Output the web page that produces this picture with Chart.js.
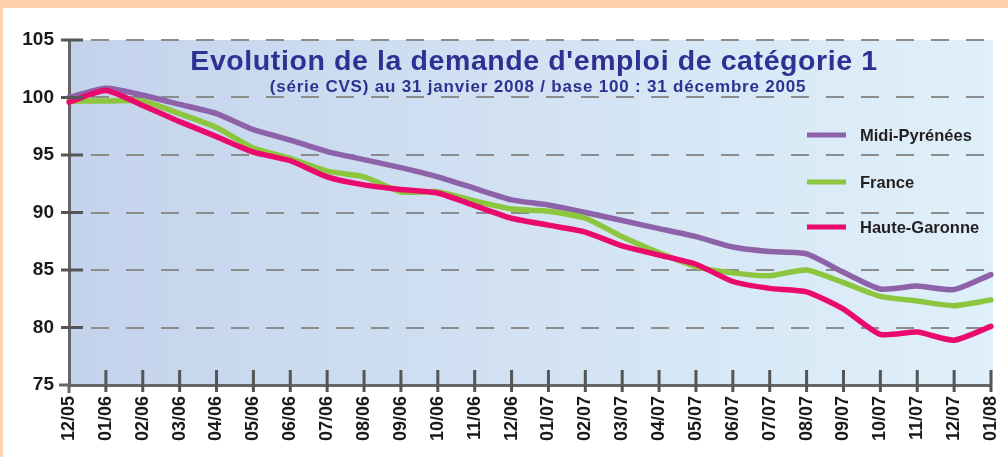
<!DOCTYPE html>
<html>
<head>
<meta charset="utf-8">
<script src="https://cdn.jsdelivr.net/npm/chart.js@4/dist/chart.umd.min.js"></script>
<style>
  html, body { margin: 0; padding: 0; }
  body { background: #fdd2ad; width: 1008px; height: 457px; overflow: hidden; position: relative; }
  #panel { position: absolute; left: 3px; top: 8px; width: 1005px; height: 449px; background: #ffffff; }
  canvas { display: block; }
</style>
</head>
<body>
<div id="panel"><canvas id="myChart" width="1005" height="449"></canvas></div>
<script>
const months = ['12/05', '01/06', '02/06', '03/06', '04/06', '05/06', '06/06', '07/06', '08/06', '09/06', '10/06', '11/06', '12/06',
    '01/07', '02/07', '03/07', '04/07', '05/07', '06/07', '07/07', '08/07', '09/07', '10/07', '11/07', '12/07', '01/08']

const midiPyrenees = [100.0, 100.8, 100.2, 99.4, 98.6, 97.2, 96.3, 95.3, 94.6, 93.9, 93.1, 92.1, 91.1,
    90.65, 90.0, 89.3, 88.6, 87.9, 87.0, 86.6, 86.4, 84.8, 83.35, 83.6, 83.3, 84.6]
const france = [99.7, 99.7, 99.7, 98.6, 97.4, 95.6, 94.7, 93.6, 93.1, 91.8, 91.8, 91.0, 90.3,
    90.1, 89.5, 87.9, 86.5, 85.3, 84.75, 84.5, 85.0, 83.9, 82.7, 82.3, 81.9, 82.4]
const hauteGaronne = [99.6, 100.6, 99.3, 97.9, 96.6, 95.25, 94.5, 93.1, 92.4, 92.0, 91.7, 90.6, 89.5,
    88.9, 88.3, 87.1, 86.3, 85.5, 84.0, 83.4, 83.1, 81.6, 79.4, 79.6, 78.9, 80.1]

const yTicks = [75, 80, 85, 90, 95, 100, 105]

const titleText = "Evolution de la demande d'emploi de catégorie 1"
const subtitleText = "(série CVS) au 31 janvier 2008 / base 100 : 31 décembre 2005"

const purple = '#8e62a9'
const green = '#8cc63e'
const red = '#ea0a6e'
const navy = '#2e3192'
const axisGray = '#666666'
const font = "'Liberation Sans', Arial, sans-serif"

// background, axis overhangs, ticks, title and legend
const decoPlugin = {
    id: 'deco',
    beforeDraw(chart) {
        const ctx = chart.ctx
        const a = chart.chartArea
        const grad = ctx.createLinearGradient(a.left, 0, a.right, 0)
        grad.addColorStop(0, '#c4d3ec')
        grad.addColorStop(0.5, '#d2e2f3')
        grad.addColorStop(1, '#dff0fa')
        ctx.save()
        ctx.fillStyle = grad
        ctx.fillRect(a.left, a.top, a.right - a.left + 2, a.bottom - a.top)
        ctx.restore()
    },
    afterDraw(chart) {
        const ctx = chart.ctx
        const a = chart.chartArea
        const xs = chart.scales.x
        const ys = chart.scales.y
        ctx.save()
        ctx.strokeStyle = axisGray
        ctx.lineWidth = 3
        // axis overhangs
        ctx.beginPath()
        ctx.moveTo(a.left, a.bottom)
        ctx.lineTo(a.left, a.bottom + 8)
        ctx.moveTo(a.left - 10, a.bottom)
        ctx.lineTo(a.left, a.bottom)
        ctx.stroke()
        // y ticks crossing the axis
        ctx.strokeStyle = '#555555'
        ctx.beginPath()
        yTicks.forEach(v => {
            if (v === 75) return
            const y = ys.getPixelForValue(v)
            ctx.moveTo(a.left - 8, y)
            ctx.lineTo(a.left + 14, y)
        })
        // x ticks crossing the axis
        months.forEach((m, i) => {
            if (i === 0) return
            const x = xs.getPixelForValue(i)
            ctx.moveTo(x, a.bottom - 15)
            ctx.lineTo(x, a.bottom + 7)
        })
        ctx.stroke()

        // title
        ctx.fillStyle = navy
        ctx.textAlign = 'center'
        ctx.textBaseline = 'alphabetic'
        ctx.letterSpacing = '0.6px'
        ctx.font = 'bold 28.5px ' + font
        ctx.fillText(titleText, 531, 62)
        ctx.letterSpacing = '0.8px'
        ctx.font = 'bold 17px ' + font
        ctx.fillText(subtitleText, 535, 84)
        ctx.letterSpacing = '0px'

        // legend
        const items = [
            { label: 'Midi-Pyrénées', color: purple, y: 127 },
            { label: 'France', color: green, y: 174 },
            { label: 'Haute-Garonne', color: red, y: 219 }
        ]
        ctx.textAlign = 'left'
        ctx.textBaseline = 'middle'
        ctx.font = 'bold 16.5px ' + font
        items.forEach(it => {
            ctx.strokeStyle = it.color
            ctx.lineWidth = 5
            ctx.beginPath()
            ctx.moveTo(804, it.y)
            ctx.lineTo(843, it.y)
            ctx.stroke()
            ctx.fillStyle = '#231f20'
            ctx.fillText(it.label, 857, it.y + 1)
        })
        ctx.restore()
    }
}

const ctx = document.getElementById('myChart').getContext('2d')
const myChart = new Chart(ctx, {
    type: 'line',
    data: {
        labels: months,
        datasets: [
            {
                label: 'Haute-Garonne',
                data: hauteGaronne,
                borderColor: red,
                borderWidth: 5.5,
                order: 0
            },
            {
                label: 'France',
                data: france,
                borderColor: green,
                borderWidth: 5.5,
                order: 1
            },
            {
                label: 'Midi-Pyrénées',
                data: midiPyrenees,
                borderColor: purple,
                borderWidth: 5.5,
                order: 2
            }
        ]
    },
    options: {
        responsive: false,
        animation: false,
        layout: {
            padding: { top: 32, right: 17, left: 0, bottom: 0 }
        },
        elements: {
            point: { radius: 0 },
            line: { tension: 0.2, borderCapStyle: 'round', borderJoinStyle: 'round' }
        },
        plugins: {
            legend: { display: false },
            tooltip: { enabled: false }
        },
        scales: {
            x: {
                offset: false,
                grid: { display: false, drawTicks: false },
                border: { display: true, color: axisGray, width: 3 },
                ticks: {
                    color: '#1a1a1a',
                    font: { family: font, size: 18, weight: 'bold' },
                    minRotation: 90,
                    maxRotation: 90,
                    autoSkip: false,
                    padding: 11
                },
                afterFit(scale) {
                    scale.height = 72
                    scale.paddingLeft = 0
                    scale.paddingRight = 0
                }
            },
            y: {
                min: 75,
                max: 105,
                grid: {
                    color: '#8c8c8c',
                    lineWidth: 2,
                    drawTicks: false
                },
                border: { display: true, color: axisGray, width: 3, dash: [18, 17], dashOffset: -20 },
                ticks: {
                    stepSize: 5,
                    color: '#1a1a1a',
                    font: { family: font, size: 19, weight: 'bold' },
                    padding: 15
                },
                afterFit(scale) {
                    scale.width = 66
                    scale.paddingTop = 0
                    scale.paddingBottom = 0
                }
            }
        }
    },
    plugins: [decoPlugin]
})
</script>
</body>
</html>
